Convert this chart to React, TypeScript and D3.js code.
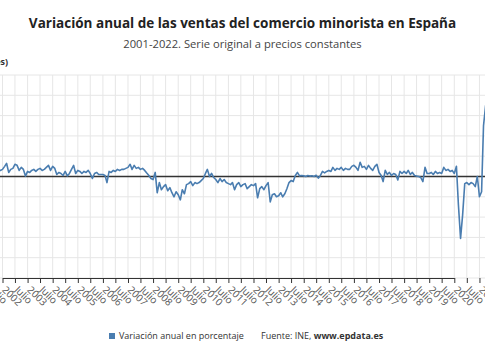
import React, { useEffect, useRef } from 'react';
import * as d3 from 'd3';

// monthly year-on-year change (%), Jan 2001 .. Jun 2022
const years = [
  2001, 2002, 2003, 2004, 2005, 2006, 2007, 2008, 2009, 2010, 2011,
  2012, 2013, 2014, 2015, 2016, 2017, 2018, 2019, 2020, 2021, 2022,
];

const values = [
  4.5, 3.2, 2.0, 5.5, 4.0, 3.1, 4.2, 3.6, 2.4, 4.8, 3.3, 3.0, // 2001
  3.5, 5.0, 6.5, 2.0, 3.5, 4.0, 6.0, 5.5, 3.0, 4.5, 3.5, 0.2, // 2002
  2.5, 2.0, 3.0, 3.5, 2.5, 3.5, 4.0, 3.0, 3.5, 4.5, 5.5, 3.0, // 2003
  5.0, 4.0, 1.0, 2.0, 1.5, 0.5, 2.5, 0.3, 1.5, 3.5, 5.5, 1.5, // 2004
  3.0, 2.5, 1.5, 2.5, 2.0, 3.0, 1.5, -1.0, 1.5, 2.0, 1.0, 1.0, // 2005
  1.0, 0.5, -3.0, 2.5, 2.0, 3.0, 2.5, 3.5, 3.0, 3.5, 3.5, 4.0, // 2006
  4.5, 6.0, 3.5, 5.5, 4.0, 4.5, 3.5, 4.0, 3.0, 1.7, 0.5, -1.0, // 2007
  -1.5, 2.0, -8.0, -3.0, -6.5, -5.0, -4.0, -7.0, -5.5, -8.0, -10.0, -7.5, // 2008
  -9.0, -11.5, -6.5, -8.5, -4.0, -3.5, -2.5, -4.5, -3.0, -3.5, -3.0, -2.0, // 2009
  -1.0, 1.5, 3.5, 0.0, 1.5, -0.5, -1.5, -3.0, -1.0, -2.5, -1.5, -3.0, // 2010
  -3.5, -4.0, -3.0, -6.5, -4.0, -3.0, -5.0, -4.0, -3.5, -6.0, -5.0, -4.0, // 2011
  -4.5, -3.5, -10.5, -6.0, -5.0, -6.5, -4.5, -3.0, -12.5, -9.0, -8.5, -10.0, // 2012
  -9.5, -8.0, -10.0, -8.5, -6.0, -3.0, -2.0, -2.5, 0.5, 2.0, 0.3, 0.5, // 2013
  0.3, 0.0, 0.5, 0.2, 0.4, 0.0, 0.6, -0.8, 0.5, 2.5, 1.8, 2.5, // 2014
  3.0, 2.5, 4.5, 3.0, 4.0, 3.5, 4.5, 3.0, 4.0, 3.5, 3.5, 5.0, // 2015
  5.5, 4.5, 3.0, 7.0, 4.5, 5.0, 3.5, 5.5, 4.0, 3.0, 5.0, 6.0, // 2016
  2.0, 0.5, -2.5, 3.0, 1.0, 2.0, 0.5, 1.5, 1.0, -1.7, 2.5, 1.5, // 2017
  2.5, 1.5, 3.0, 1.0, 2.0, 0.5, 0.2, 0.0, -0.5, -2.5, 4.5, 1.5, // 2018
  1.5, 2.0, 1.0, 2.5, 1.5, 2.0, 1.5, 4.5, 3.0, 3.5, 2.5, 3.0, // 2019
  1.5, 5.0, -14.0, -30.5, -19.0, -3.5, -3.0, -4.0, -3.0, -3.5, -5.0, 0.0, // 2020
  -10.0, -7.5, 25.0, 35.0, 20.0, 7.0, -2.5, 0.5, 0.0, 1.5, 3.0, 4.5, // 2021
  5.0, 1.0, -4.0, 2.0, 1.0, -0.5, // 2022
];

const yTicks = [-50, -40, -30, -20, -10, 0, 10, 20, 30, 40, 50];

const title = 'Variación anual de las ventas del comercio minorista en España';
const subtitle = '2001-2022. Serie original a precios constantes';
const yTitle = '(En porcentajes)';
const seriesName = 'Variación anual en porcentaje';

const BLUE = '#4a7db0';
const FONT = "'Open Sans', sans-serif";

interface IPoint {
  date: Date;
  value: number;
}

const App = () => {
  const svgRef = useRef<SVGSVGElement>(null);

  useEffect(() => {
    drawChart(svgRef);
  }, [svgRef]);

  return (
    <svg
      ref={svgRef}
      width={485}
      height={360}
      style={{ position: 'absolute', left: 0, top: 0, background: '#fff' }}
    ></svg>
  );
};

function drawChart(svgRef: React.RefObject<SVGSVGElement>) {
  const svg = d3.select(svgRef.current);
  svg.selectAll('*').remove();

  const data: IPoint[] = values.map((value, i) => ({
    date: new Date(Date.UTC(years[0] + Math.floor(i / 12), i % 12, 1)),
    value,
  }));

  // the plot runs wider than the picture on both sides
  const x = d3
    .scaleUtc()
    .domain([new Date(Date.UTC(2002, 0, 1)), new Date(Date.UTC(2020, 0, 1))])
    .range([2.5, 454.3]);
  const y = d3.scaleLinear().domain([-50, 50]).range([278, 75]);

  const ticks: Date[] = [];
  years.forEach((yr) => {
    ticks.push(new Date(Date.UTC(yr, 0, 1)));
    ticks.push(new Date(Date.UTC(yr, 6, 1)));
  });

  // grid
  svg
    .append('g')
    .selectAll('line')
    .data(ticks)
    .join('line')
    .attr('x1', (d) => x(d))
    .attr('x2', (d) => x(d))
    .attr('y1', y(50))
    .attr('y2', y(-50))
    .attr('stroke', '#e6e6e6')
    .attr('stroke-width', 1);

  svg
    .append('g')
    .selectAll('line')
    .data(yTicks)
    .join('line')
    .attr('x1', 0)
    .attr('x2', 485)
    .attr('y1', (d) => y(d))
    .attr('y2', (d) => y(d))
    .attr('stroke', '#e6e6e6')
    .attr('stroke-width', 1);

  // x axis
  const axis = svg
    .append('g')
    .attr('transform', 'translate(0,' + y(-50) + ')')
    .call(
      d3
        .axisBottom(x)
        .tickValues(ticks)
        .tickSize(5)
        .tickSizeOuter(0)
        .tickFormat((d: any) => (d.getUTCMonth() === 0 ? String(d.getUTCFullYear()) : 'Julio'))
    );
  axis.select('.domain').attr('stroke', '#333').attr('stroke-width', 1.2);
  axis.selectAll('.tick line').attr('stroke', '#333');
  axis
    .selectAll('.tick text')
    .attr('x', 0)
    .attr('y', 0)
    .attr('dy', '0.35em')
    .attr('transform', 'translate(1,10) rotate(45)')
    .style('text-anchor', 'start')
    .style('font-family', FONT)
    .style('font-size', '10px')
    .attr('fill', '#555');

  // zero line
  svg
    .append('line')
    .attr('x1', 0)
    .attr('x2', 485)
    .attr('y1', y(0))
    .attr('y2', y(0))
    .attr('stroke', '#333')
    .attr('stroke-width', 1.5);

  // series
  svg
    .append('path')
    .datum(data)
    .attr('fill', 'none')
    .attr('stroke', BLUE)
    .attr('stroke-width', 1.6)
    .attr('stroke-linejoin', 'round')
    .attr(
      'd',
      d3
        .line<IPoint>()
        .x((d) => x(d.date))
        .y((d) => y(d.value))
    );

  // texts
  svg
    .append('text')
    .attr('x', 242.5)
    .attr('y', 28)
    .attr('text-anchor', 'middle')
    .style('font-family', FONT)
    .style('font-size', '13.5px')
    .style('font-weight', 'bold')
    .attr('fill', '#222')
    .text(title);

  svg
    .append('text')
    .attr('x', 242.5)
    .attr('y', 48)
    .attr('text-anchor', 'middle')
    .style('font-family', FONT)
    .style('font-size', '11.2px')
    .attr('fill', '#444')
    .text(subtitle);

  svg
    .append('text')
    .attr('x', 8)
    .attr('y', 65)
    .attr('text-anchor', 'end')
    .style('font-family', FONT)
    .style('font-size', '9px')
    .style('font-weight', 'bold')
    .attr('fill', '#333')
    .text(yTitle);

  // legend
  svg
    .append('rect')
    .attr('x', 109)
    .attr('y', 333)
    .attr('width', 6)
    .attr('height', 6)
    .attr('fill', BLUE);

  svg
    .append('text')
    .attr('x', 119)
    .attr('y', 339)
    .style('font-family', FONT)
    .style('font-size', '9px')
    .attr('fill', '#333')
    .text(seriesName);

  const src = svg
    .append('text')
    .attr('x', 261)
    .attr('y', 339)
    .style('font-family', FONT)
    .style('font-size', '9px')
    .attr('fill', '#333');
  src.append('tspan').text('Fuente: INE, ');
  src.append('tspan').style('font-weight', 'bold').text('www.epdata.es');
}

export default App;
